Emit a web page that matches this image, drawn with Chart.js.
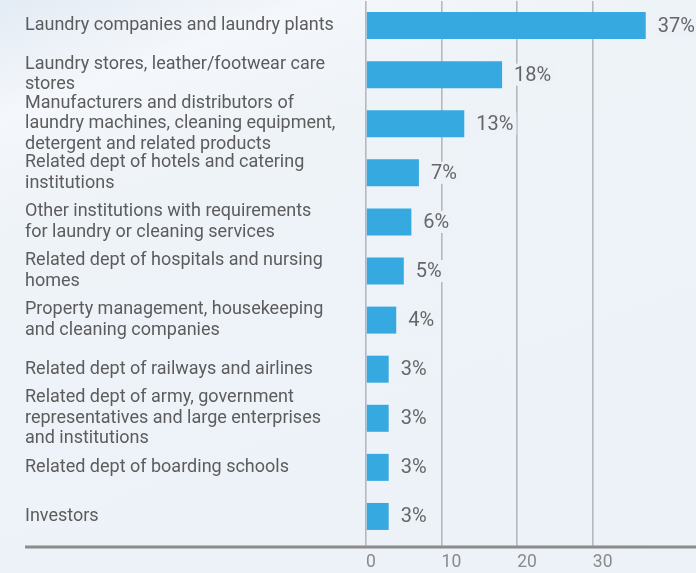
<!DOCTYPE html>
<html>
<head>
<meta charset="utf-8">
<script src="https://cdn.jsdelivr.net/npm/chart.js@4"></script>
<style>
  html, body { margin: 0; padding: 0; }
  body {
    width: 696px; height: 573px; overflow: hidden;
    background: linear-gradient(160deg, #e3ebf4 0%, #f4f7fb 14%, #eef3f8 30%, #edf2f8 100%);
  }
  #wrap { position: relative; width: 696px; height: 573px; }
</style>
</head>
<body>
<div id="wrap"><canvas id="customerChart"></canvas></div>
<script>
// ── Data ─────────────────────────────────────────
const categories = [
  'Laundry companies and laundry plants',
  ['Laundry stores, leather/footwear care', 'stores'],
  ['Manufacturers and distributors of', 'laundry machines, cleaning equipment,', 'detergent and related products'],
  ['Related dept of hotels and catering', 'institutions'],
  ['Other institutions with requirements', 'for laundry or cleaning services'],
  ['Related dept of hospitals and nursing', 'homes'],
  ['Property management, housekeeping', 'and cleaning companies'],
  'Related dept of railways and airlines',
  ['Related dept of army, government', 'representatives and large enterprises', 'and institutions'],
  'Related dept of boarding schools',
  'Investors'
];
const shares = [37, 18, 13, 7, 6, 5, 4, 3, 3, 3, 3];
const tickValues = [0, 10, 20, 30];

const COLORS = {
  bar:   '#36a9e1',
  label: '#5c5c5c',
  value: '#666666',
  tick:  '#8a8a8a',
  grid:  '#b5b9be',
  axis:  '#8c8c8c',
  bg:    '#edf2f8',
};

// value labels with a small bg patch (hides the grid line behind them)
const valueLabels = {
  id: 'valueLabels',
  afterDatasetsDraw(chart) {
    const c = chart.ctx;
    const meta = chart.getDatasetMeta(0);
    c.save();
    c.font = '20px Roboto';
    c.textBaseline = 'middle';
    c.textAlign = 'left';
    meta.data.forEach((bar, i) => {
      const txt = shares[i] + '%';
      const x = bar.x + 12;
      const w = c.measureText(txt).width;
      c.fillStyle = COLORS.bg;
      c.fillRect(x - 3, bar.y - 11, w + 6, 22);
      c.fillStyle = COLORS.value;
      c.fillText(txt, x, bar.y + 1);
    });
    c.restore();
  }
};

// long baseline under the whole chart
const baseLine = {
  id: 'baseLine',
  afterDraw(chart) {
    const c = chart.ctx;
    const y = chart.chartArea.bottom + 6;
    c.save();
    c.strokeStyle = COLORS.axis;
    c.lineWidth = 3;
    c.beginPath();
    c.moveTo(25, y);
    c.lineTo(chart.width, y);
    c.stroke();
    c.restore();
  }
};

new Chart(document.getElementById('customerChart'), {
  type: 'bar',
  data: {
    labels: categories,
    datasets: [{
      data: shares,
      backgroundColor: COLORS.bar,
      borderWidth: 0,
      categoryPercentage: 1,
      barPercentage: 0.55,
    }]
  },
  options: {
    indexAxis: 'y',
    responsive: true,
    maintainAspectRatio: false,
    animation: false,
    layout: { padding: { left: 25, right: 0, top: 1, bottom: 0 } },
    plugins: {
      legend: { display: false },
      tooltip: { enabled: false }
    },
    scales: {
      x: {
        min: 0,
        max: 43.65,
        afterBuildTicks: axis => {
          axis.ticks = tickValues.map(v => ({ value: v }));
        },
        afterFit: axis => {
          axis.height = 32;
          axis.paddingLeft = 0;
          axis.paddingRight = 0;
        },
        border: { display: false },
        grid: {
          color: COLORS.grid,
          lineWidth: 1.6,
          drawTicks: true,
          tickLength: 6,
          tickColor: COLORS.grid,
        },
        ticks: {
          align: 'start',
          padding: 5,
          color: COLORS.tick,
          font: { family: 'Roboto', size: 17.5 },
        }
      },
      y: {
        afterFit: axis => {
          axis.width = 341;
          axis.paddingTop = 0;
          axis.paddingBottom = 0;
        },
        border: { display: false },
        grid: { display: false, drawTicks: false },
        ticks: {
          autoSkip: false,
          crossAlign: 'far',
          color: COLORS.label,
          font: { family: 'Roboto', size: 18, lineHeight: 1.14 },
        }
      }
    }
  },
  plugins: [valueLabels, baseLine]
});
</script>
</body>
</html>
